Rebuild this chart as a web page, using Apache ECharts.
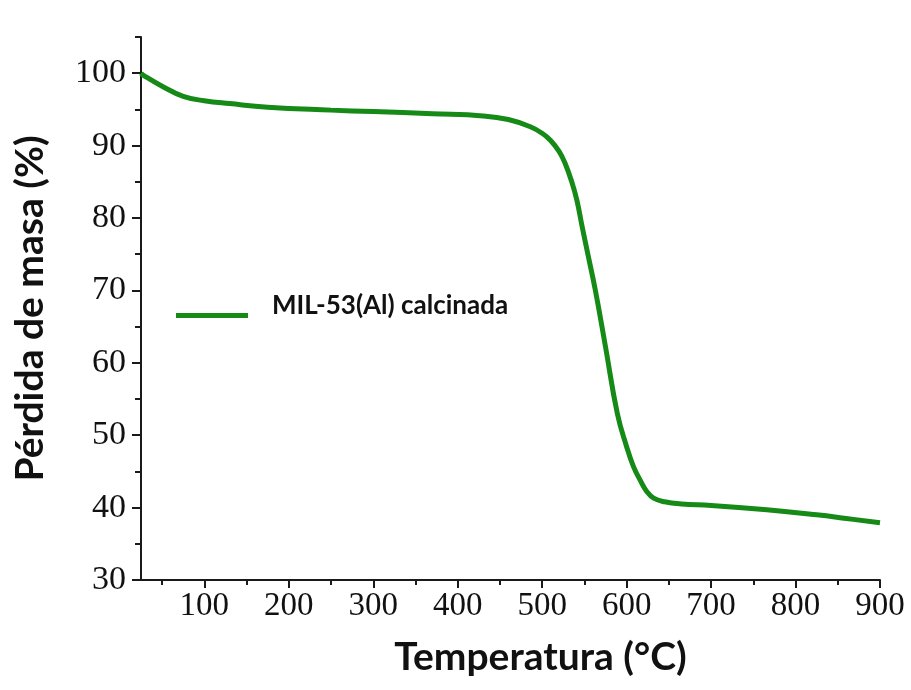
<!DOCTYPE html>
<html>
<head>
<meta charset="utf-8">
<script src="https://cdn.jsdelivr.net/npm/echarts@6/dist/echarts.min.js"></script>
<style>
  html, body { margin: 0; padding: 0; background: #fff; }
  #main { width: 911px; height: 690px; }
</style>
</head>
<body>
<div id="main"></div>
<script>
// TGA curve
var temperatura = [25, 28, 50, 75, 100, 130, 175, 250, 300, 370, 430, 460, 486, 500, 510, 520, 527, 535, 541, 547, 553, 563, 575, 589, 600, 608, 616, 624, 632, 645, 665, 700, 766, 825, 860, 900];
var masa = [100, 99.7, 98.2, 96.8, 96.2, 95.8, 95.3, 94.9, 94.7, 94.4, 94.1, 93.6, 92.6, 91.7, 90.7, 89.2, 87.6, 85, 82.5, 79, 75.6, 70, 62.2, 53, 48.4, 45.7, 43.8, 42.2, 41.3, 40.8, 40.5, 40.3, 39.7, 39.0, 38.5, 37.9];
var xMajor = [100, 200, 300, 400, 500, 600, 700, 800, 900];
var xMinor = [50, 150, 250, 350, 450, 550, 650, 750, 850];
var yMajor = [30, 40, 50, 60, 70, 80, 90, 100];
var yMinor = [35, 45, 55, 65, 75, 85, 95, 105];
var serieName = 'MIL-53(Al) calcinada';

var lineColor = '#168a16';
var axisColor = '#1a1a1a';
var serif = 'Liberation Serif';

var puntos = temperatura.map(function (t, i) { return [t, masa[i]]; });

// legend line sits lower than the text: a tiny dot at the top keeps the bar at the bottom of the icon box
var iconoLinea = 'path://M0,0L0.01,0L0.01,0.01ZM0,19L72,19L72,24L0,24Z';

var chart = echarts.init(document.getElementById('main'));
chart.setOption({
  animation: false,
  backgroundColor: '#fff',
  grid: { left: 141, right: 31, top: 37, bottom: 110, outerBoundsMode: 'none' },
  legend: {
    left: 176, top: 293, padding: 0,
    icon: iconoLinea, itemWidth: 72, itemHeight: 24,
    data: [serieName],
    textStyle: { fontFamily: 'Lato', fontWeight: 'bold', fontSize: 26, color: '#111', padding: [0, 0, 0, 19] }
  },
  xAxis: [{
    type: 'value', min: 25, max: 900,
    name: 'Temperatura (°C)', nameLocation: 'middle', nameGap: 58,
    nameTextStyle: { fontFamily: 'Lato', fontWeight: 'bold', fontSize: 39, color: '#111', padding: [0, 0, 0, 60] },
    axisLine: { show: true, onZero: false, lineStyle: { color: axisColor, width: 2 } },
    axisTick: { show: true, inside: false, length: 8, lineStyle: { color: axisColor, width: 2 }, customValues: xMajor },
    axisLabel: { customValues: xMajor, margin: 10, fontFamily: serif, fontSize: 33, color: '#111' },
    splitLine: { show: false }
  }, {
    type: 'value', min: 25, max: 900, position: 'bottom',
    axisLine: { show: false },
    axisTick: { show: true, inside: false, length: 5, lineStyle: { color: axisColor, width: 2 }, customValues: xMinor },
    axisLabel: { show: false },
    splitLine: { show: false }
  }],
  yAxis: [{
    type: 'value', min: 30, max: 105,
    name: 'Pérdida de masa (%)', nameLocation: 'middle', nameGap: 91,
    nameTextStyle: { fontFamily: 'Lato', fontWeight: 'bold', fontSize: 39, color: '#111' },
    axisLine: { show: true, onZero: false, lineStyle: { color: axisColor, width: 2 } },
    axisTick: { show: true, inside: false, length: 9, lineStyle: { color: axisColor, width: 2 }, customValues: yMajor },
    axisLabel: { customValues: yMajor, margin: 15, fontFamily: serif, fontSize: 34, color: '#111' },
    splitLine: { show: false }
  }, {
    type: 'value', min: 30, max: 105, position: 'left',
    axisLine: { show: false },
    axisTick: { show: true, inside: false, length: 6, lineStyle: { color: axisColor, width: 2 }, customValues: yMinor },
    axisLabel: { show: false },
    splitLine: { show: false }
  }],
  series: [{
    name: serieName,
    type: 'line',
    xAxisIndex: 0, yAxisIndex: 0,
    data: puntos,
    smooth: 0.45,
    symbol: 'none',
    lineStyle: { color: lineColor, width: 5 },
    itemStyle: { color: lineColor }
  }]
});
</script>
</body>
</html>
